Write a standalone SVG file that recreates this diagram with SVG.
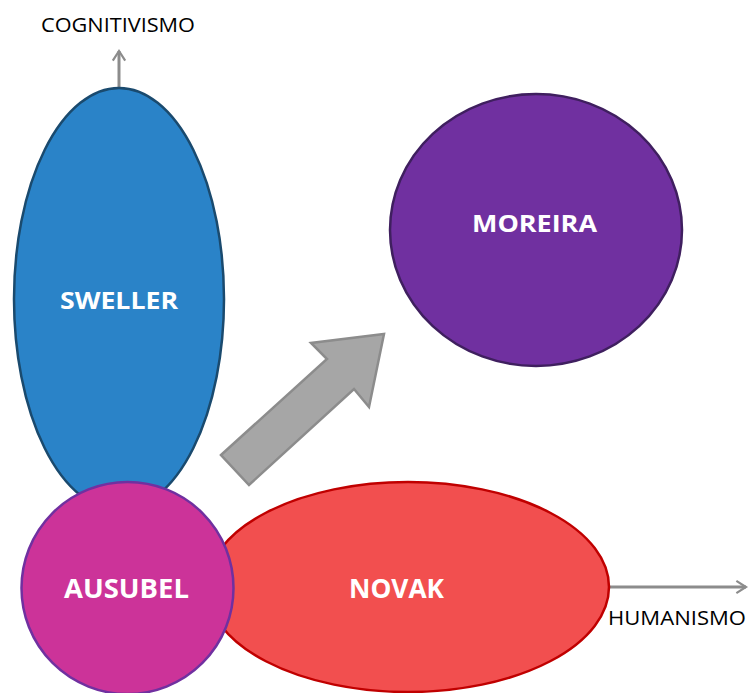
<svg xmlns="http://www.w3.org/2000/svg" width="749" height="693" viewBox="0 0 749 693">
  <style>
    .node-label { font-family: "Open Sans", "Noto Sans", "Liberation Sans", sans-serif; font-weight: bold; font-size: 24px; fill: #ffffff; }
    .big { font-size: 27px; }
    .axis-label { font-family: "Open Sans", "Noto Sans", "Liberation Sans", sans-serif; font-size: 20px; fill: #000000; }
    .axis { stroke: #8c8c8c; stroke-width: 3; fill: none; }
  </style>
  <defs>
    <marker id="open-head" viewBox="0 0 12 12" refX="10" refY="6" markerWidth="5.5" markerHeight="5.5" orient="auto" markerUnits="strokeWidth">
      <path d="M3,1.5 L10,6 L3,10.5" fill="none" stroke="#8c8c8c" stroke-width="1.6"/>
    </marker>
  </defs>

  <g id="connectors">
    <line class="axis" x1="119" y1="90" x2="119" y2="51" marker-end="url(#open-head)"/>
    <line class="axis" x1="610" y1="587" x2="746" y2="587" marker-end="url(#open-head)"/>
    <polygon points="221,455 327,359 311,343 384,334 369,407 354,389 249,485" fill="#a6a6a6" stroke="#8c8c8c" stroke-width="2.5" stroke-linejoin="miter"/>
  </g>

  <g id="sweller">
    <ellipse cx="119" cy="299" rx="105" ry="211" fill="#2a83c8" stroke="#1a4a6e" stroke-width="2.5"/>
    <text class="node-label" x="60" y="309" textLength="118" lengthAdjust="spacingAndGlyphs">SWELLER</text>
  </g>

  <g id="novak">
    <ellipse cx="408" cy="587" rx="201" ry="105" fill="#f24f4f" stroke="#c00000" stroke-width="2.5"/>
    <text class="node-label big" x="349" y="598" textLength="95" lengthAdjust="spacingAndGlyphs">NOVAK</text>
  </g>

  <g id="ausubel">
    <circle cx="127.5" cy="588" r="106" fill="#cc3399" stroke="#7030a0" stroke-width="2.5"/>
    <text class="node-label big" x="64" y="598" textLength="125" lengthAdjust="spacingAndGlyphs">AUSUBEL</text>
  </g>

  <g id="moreira">
    <ellipse cx="536" cy="230" rx="146" ry="136" fill="#7030a0" stroke="#3f1f5f" stroke-width="2.5"/>
    <text class="node-label" x="472" y="232" textLength="125" lengthAdjust="spacingAndGlyphs">MOREIRA</text>
  </g>

  <g id="labels">
    <text class="axis-label" x="41" y="32" textLength="154" lengthAdjust="spacingAndGlyphs">COGNITIVISMO</text>
    <text class="axis-label" x="608" y="625" textLength="138" lengthAdjust="spacingAndGlyphs">HUMANISMO</text>
  </g>
</svg>
